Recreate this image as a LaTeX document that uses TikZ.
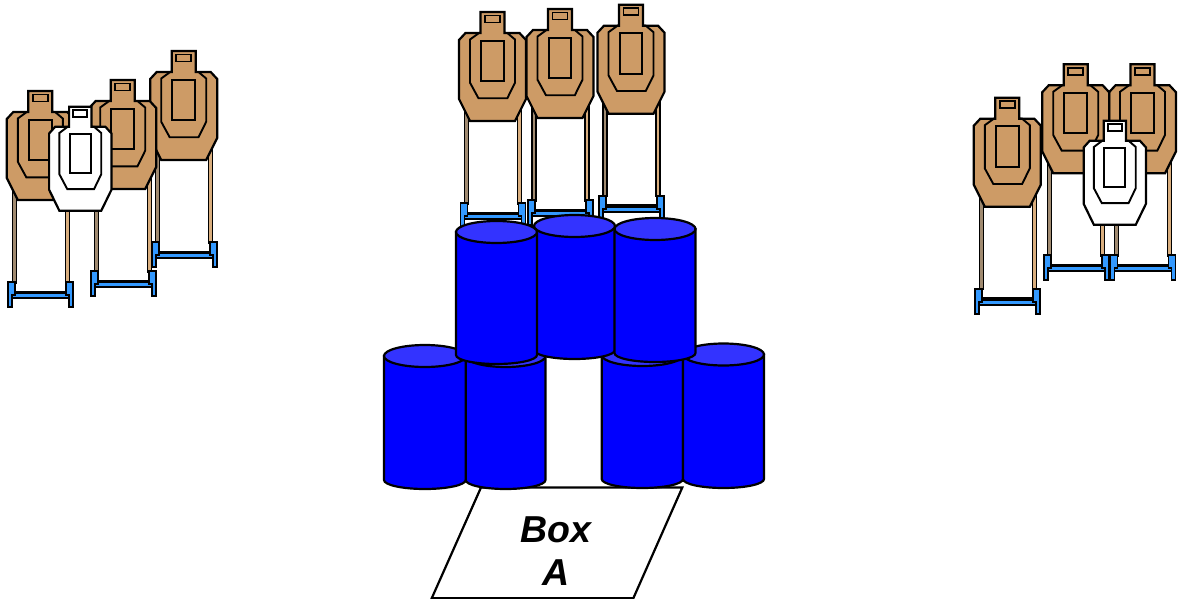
\documentclass[tikz,border=0pt]{standalone}
\usepackage{fontspec}
\setmainfont{Liberation Sans}
\definecolor{tgt}{HTML}{CD9B66}
\definecolor{legdark}{HTML}{A08A70}
\definecolor{legtan}{HTML}{D9AE7E}
\definecolor{barblue}{HTML}{3399FF}
\definecolor{cylbody}{HTML}{0000FF}
\definecolor{cyltop}{HTML}{3333FF}
\tikzset{
  lineart/.style={draw=black,line width=2.2pt,line join=miter},
  thinart/.style={draw=black,line width=1.9pt,line join=miter},
  standpart/.style={draw=black,line width=1.7pt,fill=barblue},
  shoot/.pic={
    \path[lineart,fill=\tgtfill] (-12,0) -- (12,0) -- (12,21) -- (27,21) -- (33.5,28) -- (33.5,87) -- (22.5,109) -- (-22.5,109) -- (-33.5,87) -- (-33.5,28) -- (-27,21) -- (-12,21) -- cycle;
    \path[thinart] (-7.5,3.5) rectangle (7.5,10.5);
    \path[thinart] (-12,21) -- (-13.5,21) -- (-22.5,27.5) -- (-22.5,70.7) -- (-14,86.3) -- (14.8,86.3) -- (22.5,70.7) -- (22.5,27.5) -- (14.8,21) -- (12,21);
    \path[thinart] (-11.3,28.7) rectangle (11.3,69);
  },
  rack/.pic={
    \path[draw=black,line width=1.2pt,fill=legdark] (-28,90) rectangle (-24,192);
    \path[draw=black,line width=1.2pt,fill=legtan] (25,90) rectangle (29,192);
    \path[standpart] (-28,202) rectangle (29,207);
    \path[draw=black,line width=2.2pt] (-26,200.8) -- (27,200.8);
    \path[standpart] (-32,191) -- (-25,191) -- (-25,204) -- (-28,204) -- (-28,216) -- (-32,216) -- cycle;
    \path[standpart] (26,191) -- (33,191) -- (33,216) -- (29,216) -- (29,204) -- (26,204) -- cycle;
  },
  cylinder body/.style={lineart,fill=cylbody},
  cylinder lid/.style={lineart,fill=cyltop},
  whitecut/.style={xscale=.93,yscale=.955},
}
\newcommand{\tgtfill}{tgt}
\newcommand{\canister}[4]{% left, right, top ellipse centre y, lower straight y
  \path[cylinder body] (#1,#3) -- (#1,#4) arc[start angle=180,end angle=0,x radius={(#2-#1)/2},y radius=9] -- (#2,#3) -- cycle;
  \path[cylinder lid] ({(#1+#2)/2},#3) ellipse[x radius={(#2-#1)/2},y radius=11];
}
\begin{document}
\begin{tikzpicture}[x=1pt,y=-1pt]
\useasboundingbox (0,0) rectangle (1180,599);
\fill[white] (0,0) rectangle (1180,599);
% left group
\pic at (183.7,51) {rack}; \pic at (183.7,51) {shoot};
\pic at (122.7,80) {rack}; \pic at (122.7,80) {shoot};
\pic at (40.3,91) {rack}; \pic at (40.3,91) {shoot};
\begin{scope}
\renewcommand{\tgtfill}{white}
\pic[whitecut] at (80.3,106.7) {shoot};
\end{scope}
% centre group
\pic at (631,4.7) {rack}; \pic at (631,4.7) {shoot};
\pic at (492.5,12) {rack}; \pic at (492.5,12) {shoot};
\pic at (560,9) {rack}; \pic at (560,9) {shoot};
% right group
\pic at (1142.5,64.3) {rack}; \pic at (1142.5,64.3) {shoot};
\pic at (1075.7,64.3) {rack}; \pic at (1075.7,64.3) {shoot};
\pic at (1007.3,97.7) {rack}; \pic at (1007.3,97.7) {shoot};
\begin{scope}
\renewcommand{\tgtfill}{white}
\pic[whitecut] at (1114.8,120.7) {shoot};
\end{scope}
% box
\path[lineart,fill=white] (481,487.5) -- (682.3,487.5) -- (633.3,598.3) -- (431.7,598.3) -- cycle;
\node[font=\fontsize{37.5}{43}\selectfont\bfseries\itshape,align=center,inner sep=0pt] (boxa) at (556.3,551) {Box\\A};
% barrels
\canister{465.7}{545.5}{356}{480}
\canister{384}{465.7}{356}{480}
\canister{601.7}{683}{355}{479}
\canister{683}{764}{354.5}{479}
\canister{534}{615}{226}{350}
\canister{456}{537}{232}{355}
\canister{614.5}{695.5}{229}{353}
\end{tikzpicture}
\end{document}
